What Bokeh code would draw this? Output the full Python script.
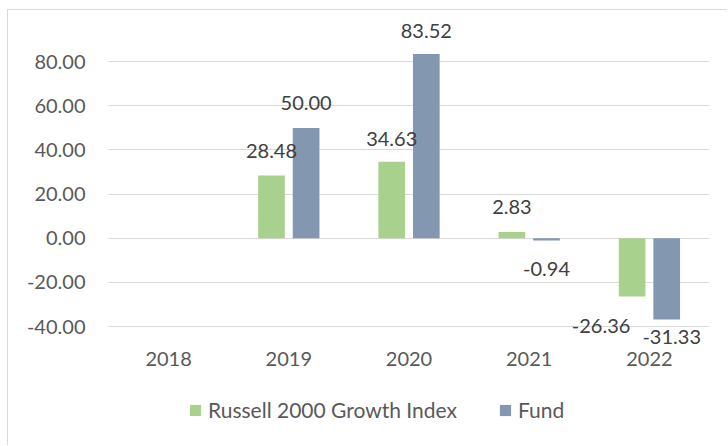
from bokeh.plotting import figure
from bokeh.models import (ColumnDataSource, FactorRange, Range1d, FixedTicker, Legend,
                          LegendItem, CustomJSTickFormatter)
from bokeh.transform import dodge
from bokeh.core.properties import value
from bokeh.embed import file_html
from bokeh.resources import INLINE

years = ["2018", "2019", "2020", "2021", "2022"]
# bar lengths as drawn in the picture
russell = [None, 28.48, 34.63, 2.83, -26.36]
fund = [None, 50.00, 83.52, -0.94, -36.8]
# data label texts as printed in the picture
russell_labels = ["", "28.48", "34.63", "2.83", "-26.36"]
fund_labels = ["", "50.00", "83.52", "-0.94", "-31.33"]
series_names = ["Russell 2000 Growth Index", "Fund"]
y_ticks = [-40, -20, 0, 20, 40, 60, 80]

GREEN = "#A9D18E"
BLUE = "#8497B0"
FONT = "Lato"

# label offsets (styling only)
label_dx = {"r": [0, 0, 0, 0, -31], "f": [0, 0, 0, 0, 5]}
label_dy = {"r": [0, -24, -23, -25, 29], "f": [0, -25, -23, 29, 17]}


def clean(vals):
    return [float("nan") if v is None else v for v in vals]


src = ColumnDataSource(dict(x=years, r=clean(russell), f=clean(fund)))

p = figure(width=720, height=436, x_range=FactorRange(*years, range_padding=0),
           y_range=Range1d(-83.4, 100), output_backend="svg", toolbar_location=None,
           min_border_left=100, min_border_right=19, min_border_top=7, min_border_bottom=24)
p.margin = (9, 0, 0, 7)
p.styles = {"border-left": "1px solid #D9D9D9", "border-top": "1px solid #D9D9D9"}
p.outline_line_color = None
p.background_fill_color = "white"
p.border_fill_color = "white"

bw = 0.222
off = 0.144
rg = p.vbar(x=dodge("x", -off, range=p.x_range), top="r", bottom=0, width=bw, source=src,
            fill_color=GREEN, line_color=None)
rb = p.vbar(x=dodge("x", off, range=p.x_range), top="f", bottom=0, width=bw, source=src,
            fill_color=BLUE, line_color=None)

for key, vals, texts, o in (("r", russell, russell_labels, -off), ("f", fund, fund_labels, off)):
    xs, ys, ts, dxs, dys = [], [], [], [], []
    for i, (yr, v) in enumerate(zip(years, vals)):
        if v is None:
            continue
        xs.append(yr); ys.append(v); ts.append(texts[i])
        dxs.append(label_dx[key][i]); dys.append(label_dy[key][i])
    s = ColumnDataSource(dict(x=xs, y=ys, t=ts, dx=dxs, dy=dys))
    p.text(x=dodge("x", o, range=p.x_range), y="y", text="t", source=s,
           x_offset="dx", y_offset="dy", text_align="center", text_baseline="middle",
           text_font=value(FONT), text_font_size="20px", text_color="#404040")

# axes
p.yaxis.ticker = FixedTicker(ticks=y_ticks)
p.yaxis.formatter = CustomJSTickFormatter(code="return tick.toFixed(2);")
p.yaxis.axis_line_color = None
p.yaxis.major_tick_line_color = None
p.yaxis.minor_tick_line_color = None
p.yaxis.major_tick_out = 0
p.yaxis.major_label_standoff = 23
p.yaxis.major_label_text_font = FONT
p.yaxis.major_label_text_font_size = "20px"
p.yaxis.major_label_text_color = "#595959"

p.xaxis.fixed_location = -51.3
p.xaxis.axis_line_color = None
p.xaxis.major_tick_line_color = None
p.xaxis.major_tick_out = 0
p.xaxis.major_label_standoff = 0
p.xaxis.major_label_text_font = FONT
p.xaxis.major_label_text_font_size = "20px"
p.xaxis.major_label_text_color = "#595959"

p.xgrid.grid_line_color = None
p.ygrid.ticker = FixedTicker(ticks=y_ticks)
p.ygrid.grid_line_color = "#D9D9D9"
p.ygrid.grid_line_width = 1

legend = Legend(items=[LegendItem(label=series_names[0], renderers=[rg]),
                       LegendItem(label=series_names[1], renderers=[rb])],
                location=(80, 0), orientation="horizontal",
                glyph_width=14, glyph_height=14, label_standoff=6, spacing=41,
                padding=0, margin=0, border_line_color=None, background_fill_alpha=0,
                label_text_font=FONT, label_text_font_size="21px", label_text_color="#595959",
                label_height=20)
p.add_layout(legend, "center")

open("out.html", "w").write(file_html(p, INLINE))
